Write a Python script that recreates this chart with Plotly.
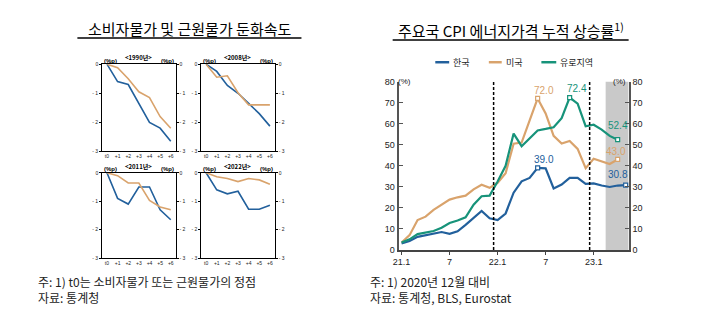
import plotly.graph_objects as go

W, H = 701, 332

# ---------------- right chart data ----------------
months = ["21.1", "21.2", "21.3", "21.4", "21.5", "21.6", "21.7", "21.8", "21.9", "21.10",
          "21.11", "21.12", "22.1", "22.2", "22.3", "22.4", "22.5", "22.6", "22.7", "22.8",
          "22.9", "22.10", "22.11", "22.12", "23.1", "23.2", "23.3", "23.4", "23.5"]
korea = [3.1, 4.2, 6.2, 7.0, 7.6, 8.5, 7.6, 8.8, 11.9, 15.0, 18.5, 15.0, 14.2, 17.3, 27.2,
         32.6, 34.2, 39.0, 38.8, 29.2, 31.1, 34.2, 34.2, 31.4, 31.6, 30.6, 29.9, 30.6, 30.8]
usa = [3.5, 7.0, 14.2, 15.8, 19.0, 21.3, 23.9, 25.0, 25.8, 28.8, 31.0, 29.5, 31.9, 36.5,
       50.5, 51.0, 61.8, 72.0, 64.9, 54.2, 50.6, 51.8, 48.0, 38.8, 43.3, 42.0, 40.8, 43.0]
euro = [3.5, 5.0, 7.5, 8.3, 9.0, 10.5, 12.8, 14.0, 15.5, 21.5, 25.5, 25.8, 32.5, 40.0,
        55.3, 49.3, 53.0, 56.8, 57.5, 58.3, 62.6, 72.4, 69.5, 58.8, 59.5, 57.2, 54.2, 52.4]
series_names = ["한국", "미국", "유로지역"]
tick_months = ["21.1", "21.7", "22.1", "22.7", "23.1"]
tick_text = ["21.1", "7", "22.1", "7", "23.1"]
y_ticks = [0, 10, 20, 30, 40, 50, 60, 70, 80]

# ---------------- left panels data ----------------
periods = ["t0", "+1", "+2", "+3", "+4", "+5", "+6"]
episodes = ["<1990년>", "<2008년>", "<2011년>", "<2022년>"]
cpi_1990 = [0, -0.6, -0.7, -1.35, -2.0, -2.2, -2.65]
core_1990 = [0, -0.12, -0.5, -0.95, -1.15, -1.8, -2.2]
cpi_2008 = [0, -0.25, -0.73, -1.0, -1.35, -1.7, -2.13]
core_2008 = [0, -0.45, -0.4, -0.98, -1.4, -1.4, -1.4]
cpi_2011 = [0, -0.9, -1.1, -0.5, -0.5, -1.3, -1.65]
core_2011 = [0, -0.1, -0.36, -0.36, -0.97, -1.2, -1.3]
cpi_2022 = [0, -0.6, -0.74, -0.65, -1.28, -1.28, -1.14]
core_2022 = [0, -0.14, -0.2, -0.31, -0.2, -0.25, -0.4]
small_ticks = [0, -1, -2, -3]
small_ticktext = ["0", "- 1", "- 2", "- 3"]

BLUE = "#22609c"
ORANGE = "#d9a36c"
TEAL = "#17937a"
KFONT = "Noto Sans CJK KR"
NFONT = "Liberation Sans"
TXT = "#222222"


def px(xp):
    return xp / W


def py(yp):
    return 1 - yp / H


fig = go.Figure()
layout = dict(width=W, height=H, margin=dict(l=0, r=0, t=0, b=0), autosize=False,
              paper_bgcolor="white", plot_bgcolor="white", showlegend=False,
              font=dict(family=KFONT, color=TXT))

# ---------------- right chart ----------------
XR = [-0.37, 28.37]
fig.add_trace(go.Scatter(x=months[:len(korea)], y=korea, name=series_names[0], mode="lines",
                         line=dict(color=BLUE, width=2.2), xaxis="x", yaxis="y"))
fig.add_trace(go.Scatter(x=months[:len(usa)], y=usa, name=series_names[1], mode="lines",
                         line=dict(color=ORANGE, width=2.2), xaxis="x", yaxis="y"))
fig.add_trace(go.Scatter(x=months[:len(euro)], y=euro, name=series_names[2], mode="lines",
                         line=dict(color=TEAL, width=2.2), xaxis="x", yaxis="y2"))

annotations = []
shapes = []
label_shifts = [((6, 8), (-8, 11)), ((6, 8), (-2, 8)), ((7, 9), (0, 14))]
for vals, color, ax, shifts in [(korea, BLUE, "y", label_shifts[0]),
                                (usa, ORANGE, "y", label_shifts[1]),
                                (euro, TEAL, "y2", label_shifts[2])]:
    ip = vals.index(max(vals))
    il = len(vals) - 1
    fig.add_trace(go.Scatter(x=[months[ip], months[il]], y=[vals[ip], vals[il]], mode="markers",
                             marker=dict(symbol="square", size=4, color="white",
                                         line=dict(color=color, width=1.2)),
                             xaxis="x", yaxis=ax, showlegend=False, cliponaxis=False))
    for i, (dx, dy) in zip([ip, il], shifts):
        # category axis: annotation position given by category index
        annotations.append(dict(x=i, y=vals[i], xref="x", yref="y", text=f"{vals[i]:.1f}",
                                showarrow=False, xshift=dx, yshift=dy,
                                font=dict(family=NFONT, size=10, color=color)))

axis_common = dict(showgrid=False, zeroline=False)
layout["xaxis"] = dict(domain=[px(396), px(628)], anchor="y", type="category",
                       categoryorder="array", categoryarray=months, range=XR,
                       tickvals=tick_months, ticktext=tick_text, ticks="outside", ticklen=3,
                       tickcolor="#444", showline=True, linecolor="#444", linewidth=1.5,
                       tickfont=dict(family=NFONT, size=9, color=TXT), **axis_common)
ycommon = dict(range=[0, 80], tickvals=y_ticks, ticks="inside", ticklen=4, tickcolor="#555",
               showline=True, linecolor="#555", linewidth=2,
               tickfont=dict(family=NFONT, size=9, color=TXT), **axis_common)
layout["yaxis"] = dict(domain=[py(252.5), py(79)], anchor="x", side="left", **ycommon)
layout["yaxis2"] = dict(overlaying="y", anchor="x", side="right", **ycommon)

shapes.append(dict(type="rect", xref="x", yref="y", x0=25.5, x1=XR[1], y0=0, y1=80,
                   fillcolor="#c9c9c9", line=dict(width=0), layer="below"))
for xv in [11.5, 23.5]:
    shapes.append(dict(type="line", xref="x", yref="y", x0=xv, x1=xv, y0=0, y1=80,
                       line=dict(color="black", width=1.5, dash="3px,2px")))

annotations.append(dict(x=px(393), y=py(72), xref="paper", yref="paper", text="(%)",
                        xanchor="left", showarrow=False,
                        font=dict(family=NFONT, size=8, color=TXT)))
annotations.append(dict(x=px(627), y=py(72), xref="paper", yref="paper", text="(%)",
                        xanchor="right", showarrow=False,
                        font=dict(family=NFONT, size=8, color=TXT)))

# manual legend
for name, color, (l0, l1) in zip(series_names, [BLUE, ORANGE, TEAL],
                                 [(433, 447), (487, 500), (540, 555)]):
    shapes.append(dict(type="line", xref="paper", yref="paper", x0=px(l0), x1=px(l1),
                       y0=py(59), y1=py(59), line=dict(color=color, width=2.5)))
    annotations.append(dict(x=px(l1 + 2), y=py(59), xref="paper", yref="paper", text=name,
                            xanchor="left", yanchor="middle", showarrow=False,
                            font=dict(family=KFONT, size=9, color=TXT)))

# titles
annotations.append(dict(x=px(509), y=py(26), xref="paper", yref="paper",
                        text="주요국 CPI 에너지가격 누적 상승률<sup>1)</sup>",
                        xanchor="center", yanchor="middle", showarrow=False,
                        font=dict(family=KFONT, size=15, color="black")))
shapes.append(dict(type="line", xref="paper", yref="paper", x0=px(390), x1=px(628),
                   y0=py(36), y1=py(36), line=dict(color="black", width=1.5)))
annotations.append(dict(x=px(185), y=py(24), xref="paper", yref="paper",
                        text="소비자물가 및 근원물가 둔화속도",
                        xanchor="center", yanchor="middle", showarrow=False,
                        font=dict(family=KFONT, size=15, color="black")))
shapes.append(dict(type="line", xref="paper", yref="paper", x0=px(72), x1=px(298),
                   y0=py(34), y1=py(34), line=dict(color="black", width=1.5)))

# ---------------- left small panels ----------------
panels = [(episodes[0], cpi_1990, core_1990), (episodes[1], cpi_2008, core_2008),
          (episodes[2], cpi_2011, core_2011), (episodes[3], cpi_2022, core_2022)]
boxes = [(97, 171, 61, 151), (197, 271, 61, 151), (97, 171, 173, 261), (197, 271, 173, 261)]
small_font = dict(family=NFONT, size=5, color=TXT)
for k, ((title, cpi, core), (x0, x1, y0, y1)) in enumerate(zip(panels, boxes)):
    xa, ya, yb = f"x{k + 2}", f"y{2 * k + 3}", f"y{2 * k + 4}"
    fig.add_trace(go.Scatter(x=periods, y=cpi, xaxis=xa, yaxis=ya, mode="lines",
                             line=dict(color=BLUE, width=1.6), showlegend=False))
    fig.add_trace(go.Scatter(x=periods, y=core, xaxis=xa, yaxis=yb, mode="lines",
                             line=dict(color=ORANGE, width=1.6), showlegend=False))
    layout[f"xaxis{k + 2}"] = dict(domain=[px(x0), px(x1)], anchor=ya, type="category",
                                   range=[-0.45, 6.45], showline=True, mirror=True,
                                   linecolor="black", linewidth=1, ticks="",
                                   tickfont=small_font, **axis_common)
    sy = dict(range=[-3, 0], tickvals=small_ticks, ticktext=small_ticktext, ticks="outside",
              ticklen=2, tickcolor="black", showline=True, linecolor="black", linewidth=1,
              tickfont=small_font, **axis_common)
    layout[f"yaxis{2 * k + 3}"] = dict(domain=[py(y1), py(y0)], anchor=xa, side="left", **sy)
    layout[f"yaxis{2 * k + 4}"] = dict(overlaying=ya, anchor=xa, side="right", **sy)
    annotations.append(dict(x=px((x0 + x1) / 2), y=py(y0 - 7), xref="paper", yref="paper",
                            text=f"<b>{title}</b>", showarrow=False, xanchor="center",
                            yanchor="middle",
                            font=dict(family=KFONT, size=6, color="black")))
    annotations.append(dict(x=px(x0), y=py(y0 - 3.5), xref="paper", yref="paper",
                            text="<b>(%p)</b>", showarrow=False, xanchor="left",
                            yanchor="middle", font=dict(family=NFONT, size=6, color="black")))
    annotations.append(dict(x=px(x1), y=py(y0 - 3.5), xref="paper", yref="paper",
                            text="<b>(%p)</b>", showarrow=False, xanchor="right",
                            yanchor="middle", font=dict(family=NFONT, size=6, color="black")))

# ---------------- footnotes ----------------
notes = [(30, 285, "주: 1) t0는 소비자물가 또는 근원물가의 정점"),
         (30, 302, "자료: 통계청"),
         (365, 285, "주: 1) 2020년 12월 대비"),
         (365, 302, "자료: 통계청, BLS, Eurostat")]
for xp, yp, t in notes:
    annotations.append(dict(x=px(xp), y=py(yp), xref="paper", yref="paper", text=t,
                            xanchor="left", yanchor="middle", showarrow=False,
                            font=dict(family=KFONT, size=12, color=TXT)))

layout["annotations"] = annotations
layout["shapes"] = shapes
fig.update_layout(**layout)
fig.write_html("out.html")
